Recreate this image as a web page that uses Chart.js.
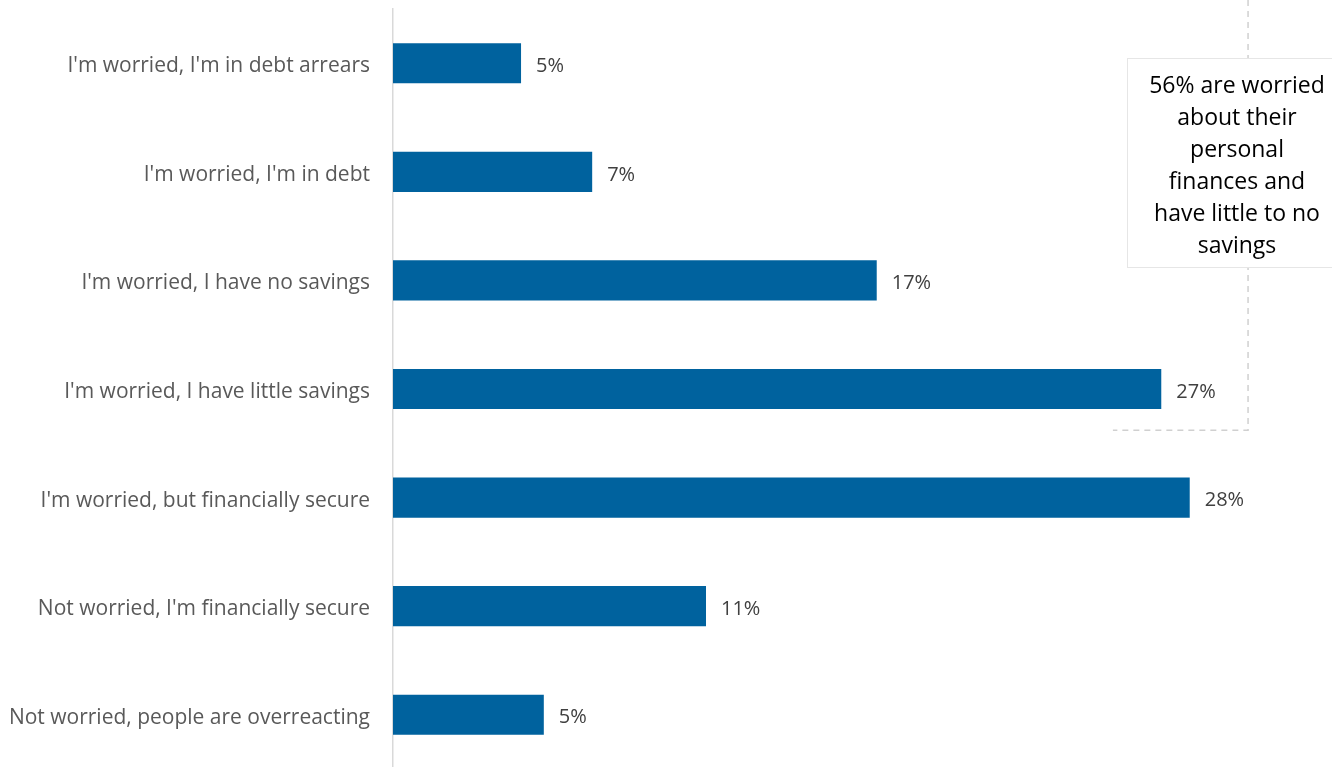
<!DOCTYPE html>
<html>
<head>
<meta charset="utf-8">
<script src="https://cdn.jsdelivr.net/npm/chart.js@4"></script>
<style>
  html, body { margin: 0; padding: 0; background: #ffffff; overflow: hidden; }
  #wrap { position: relative; width: 1332px; height: 770px; }
</style>
</head>
<body>
<div id="wrap"><canvas id="chart"></canvas></div>
<script>
// Survey responses: financial worry vs. savings position (share of respondents, %)
const categories = [
  "I'm worried, I'm in debt arrears",
  "I'm worried, I'm in debt",
  "I'm worried, I have no savings",
  "I'm worried, I have little savings",
  "I'm worried, but financially secure",
  "Not worried, I'm financially secure",
  "Not worried, people are overreacting"
];
const shares = [4.5, 7.0, 17.0, 27.0, 28.0, 11.0, 5.3];
const calloutLines = [
  "56% are worried",
  "about their",
  "personal",
  "finances and",
  "have little to no",
  "savings"
];

const FONT = "'Open Sans', 'Liberation Sans', sans-serif";

// Value labels drawn just past the end of each bar
const valueLabels = {
  id: 'valueLabels',
  afterDatasetsDraw(chart) {
    const ctx = chart.ctx;
    const meta = chart.getDatasetMeta(0);
    ctx.save();
    ctx.font = '20px ' + FONT;
    ctx.fillStyle = '#404040';
    ctx.textAlign = 'left';
    ctx.textBaseline = 'middle';
    meta.data.forEach((bar, i) => {
      ctx.fillText(Math.round(shares[i]) + '%', bar.x + 15, bar.y + 3);
    });
    ctx.restore();
  }
};

// Dashed bracket around the "worried" rows plus the callout box
const callout = {
  id: 'callout',
  afterDraw(chart) {
    const ctx = chart.ctx;
    const xs = chart.scales.x, ys = chart.scales.y;
    const lineX = xs.getPixelForValue(30.05);
    const lineY = (ys.getPixelForValue(3) + ys.getPixelForValue(4)) / 2 - 13;
    const leftX = xs.getPixelForValue(25.3);
    ctx.save();
    ctx.strokeStyle = '#d0d0d0';
    ctx.lineWidth = 1.5;
    ctx.setLineDash([6, 5]);
    ctx.beginPath();
    ctx.moveTo(lineX, 0);
    ctx.lineTo(lineX, lineY);
    ctx.lineTo(leftX, lineY);
    ctx.stroke();
    ctx.setLineDash([]);

    const boxL = 1127, boxT = 58, boxR = 1340, boxB = 267;
    ctx.fillStyle = '#ffffff';
    ctx.fillRect(boxL, boxT, boxR - boxL, boxB - boxT);
    ctx.strokeStyle = '#e6e6e6';
    ctx.lineWidth = 1;
    ctx.strokeRect(boxL + 0.5, boxT + 0.5, boxR - boxL, boxB - boxT);

    ctx.font = '23px ' + FONT;
    ctx.fillStyle = '#000000';
    ctx.textAlign = 'center';
    ctx.textBaseline = 'middle';
    calloutLines.forEach((t, i) => {
      ctx.fillText(t, 1237, 86 + i * 32);
    });
    ctx.restore();
  }
};

new Chart(document.getElementById('chart'), {
  type: 'bar',
  data: {
    labels: categories,
    datasets: [{
      data: shares,
      backgroundColor: '#00629e',
      borderWidth: 0,
      categoryPercentage: 1.0,
      barPercentage: 0.37
    }]
  },
  options: {
    indexAxis: 'y',
    responsive: true,
    maintainAspectRatio: false,
    animation: false,
    layout: { padding: { top: 9, right: 0, bottom: 1, left: 0 } },
    plugins: {
      legend: { display: false },
      tooltip: { enabled: false }
    },
    scales: {
      x: {
        min: 0,
        max: 33,
        display: false,
        grid: { display: false }
      },
      y: {
        grid: { display: false, drawTicks: false },
        border: { display: true, color: '#d9d9d9', width: 1.5 },
        ticks: {
          color: '#595959',
          padding: 23,
          labelOffset: 3,
          font: { family: FONT, size: 21 }
        },
        afterFit(scale) {
          scale.width = 393;
          scale.paddingTop = 0;
          scale.paddingBottom = 0;
        }
      }
    }
  },
  plugins: [valueLabels, callout]
});
</script>
</body>
</html>
